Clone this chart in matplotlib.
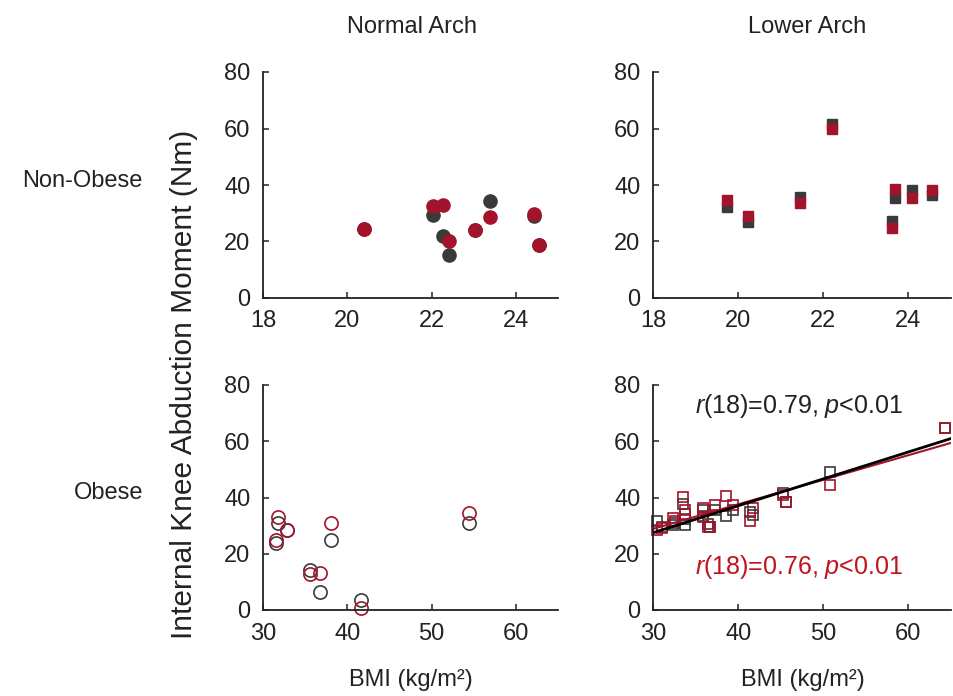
import numpy as np
import matplotlib
matplotlib.use("Agg")
import matplotlib.pyplot as plt

plt.rcParams['font.family'] = ['Liberation Sans', 'DejaVu Sans']
plt.rcParams['mathtext.fontset'] = 'custom'
plt.rcParams['mathtext.rm'] = 'Liberation Sans'
plt.rcParams['mathtext.it'] = 'Liberation Sans:italic'

# ---- data ----
col_titles = ["Normal Arch", "Lower Arch"]
row_titles = ["Non-Obese", "Obese"]
ylabel = "Internal Knee Abduction Moment (Nm)"
xlabel = "BMI (kg/m²)"

# Non-obese, normal arch
bmi_nn = [20.39, 22.04, 22.27, 22.41, 23.02, 23.39, 24.42, 24.55]
dark_nn = [24.4, 29.5, 21.8, 15.1, 24.1, 34.2, 28.9, 18.9]
red_nn = [24.4, 32.4, 33.0, 20.1, 24.1, 28.6, 29.7, 18.9]

# Non-obese, lower arch
bmi_nl = [19.73, 20.23, 21.45, 22.2, 23.61, 23.69, 24.09, 24.55]
dark_nl = [32.1, 26.8, 35.6, 61.7, 27.1, 35.4, 38.3, 36.6]
red_nl = [34.6, 28.9, 33.6, 59.9, 24.8, 38.6, 35.4, 38.1]

# Obese, normal arch
bmi_on = [31.5, 31.76, 32.9, 35.57, 36.75, 38.04, 41.65, 54.47]
dark_on = [23.8, 31.1, 28.3, 14.3, 6.4, 25.0, 3.7, 31.1]
red_on = [25.0, 32.9, 28.3, 12.9, 13.1, 31.1, 0.7, 34.4]

# Obese, lower arch
bmi_ol = [30.5, 31.0, 32.35, 32.6, 33.5, 33.8, 33.8, 35.9, 35.9, 36.46,
          36.74, 37.24, 38.55, 39.4, 41.35, 41.74, 45.26, 45.66, 50.83, 64.25]
dark_ol = [31.7, 29.5, 30.2, 31.0, 37.8, 30.2, 32.2, 35.5, 33.5, 30.5,
           29.6, 35.5, 33.4, 35.5, 34.9, 33.9, 41.6, 38.5, 48.9, 64.8]
red_ol = [28.6, 29.0, 32.6, 31.5, 40.2, 35.7, 34.1, 36.1, 32.9, 29.6,
          29.6, 37.3, 40.5, 37.3, 31.7, 36.1, 40.8, 38.5, 44.4, 64.8]

stat_dark = r"$\mathit{r}$(18)=0.79, $\mathit{p}$<0.01"
stat_red = r"$\mathit{r}$(18)=0.76, $\mathit{p}$<0.01"

DARK = '#3a3a3a'
RED = '#a3132b'
RED_TXT = '#c0141c'
FS = 17

W, H = 954, 696
fig = plt.figure(figsize=(W / 100, H / 100), dpi=100)


def px_axes(l, t, r, b):
    return fig.add_axes([l / W, 1 - b / H, (r - l) / W, (b - t) / H])


ax_nn = px_axes(263, 72, 558, 298)
ax_nl = px_axes(653, 72, 951, 298)
ax_on = px_axes(263, 385, 558, 610)
ax_ol = px_axes(653, 385, 951, 610)

for ax in (ax_nn, ax_nl, ax_on, ax_ol):
    for s in ('top', 'right'):
        ax.spines[s].set_visible(False)
    for s in ('left', 'bottom'):
        ax.spines[s].set_linewidth(1.3)
        ax.spines[s].set_color('#222222')
    ax.set_ylim(0, 80)
    ax.set_yticks([0, 20, 40, 60, 80])
    ax.tick_params(direction='in', length=4, width=1.1, labelsize=FS,
                   pad=9, colors='#222222')
    ax.set_facecolor('none')

for ax in (ax_nn, ax_nl):
    ax.set_xlim(18, 25)
    ax.set_xticks([18, 20, 22, 24])
for ax in (ax_on, ax_ol):
    ax.set_xlim(30, 65)
    ax.set_xticks([30, 40, 50, 60])

# Top-left: filled circles
ax_nn.plot(bmi_nn, dark_nn, 'o', color=DARK, ms=9.5, mec=DARK, clip_on=False)
ax_nn.plot(bmi_nn, red_nn, 'o', color=RED, ms=9.5, mec=RED, clip_on=False)

# Top-right: filled squares
ax_nl.plot(bmi_nl, dark_nl, 's', color=DARK, ms=7.5, mec=DARK, clip_on=False)
ax_nl.plot(bmi_nl, red_nl, 's', color=RED, ms=7.5, mec=RED, clip_on=False)

# Bottom-left: open circles
ax_on.plot(bmi_on, dark_on, 'o', mfc='none', mec=DARK, ms=9.5, mew=1.2, clip_on=False)
ax_on.plot(bmi_on, red_on, 'o', mfc='none', mec=RED, ms=9.5, mew=1.2, clip_on=False)

# Bottom-right: open squares + fits
ax_ol.plot(bmi_ol, dark_ol, 's', mfc='none', mec=DARK, ms=7, mew=1.2, clip_on=False)
ax_ol.plot(bmi_ol, red_ol, 's', mfc='none', mec=RED, ms=7, mew=1.2, clip_on=False)
xs = np.array([30, 65])
kd = np.polyfit(bmi_ol, dark_ol, 1)
kr = np.polyfit(bmi_ol, red_ol, 1)
ax_ol.plot(xs, np.polyval(kr, xs), '-', color=RED, lw=1.5)
ax_ol.plot(xs, np.polyval(kd, xs), '-', color='black', lw=2.0)
ax_ol.text(34.9, 72.5, stat_dark, color='#222222', fontsize=18, va='center', ha='left')
ax_ol.text(34.9, 15.2, stat_red, color=RED_TXT, fontsize=18, va='center', ha='left')

# Column / row labels
fig.text(412 / W, 1 - 27 / H, col_titles[0], fontsize=FS, ha='center', va='center', color='#222222')
fig.text(807 / W, 1 - 27 / H, col_titles[1], fontsize=FS, ha='center', va='center', color='#222222')
fig.text(143 / W, 1 - 181 / H, row_titles[0], fontsize=FS, ha='right', va='center', color='#222222')
fig.text(143 / W, 1 - 493 / H, row_titles[1], fontsize=FS, ha='right', va='center', color='#222222')
fig.text(184 / W, 1 - 384 / H, ylabel, fontsize=21.5, rotation=90, ha='center', va='center', color='#222222')
fig.text(411 / W, 1 - 680 / H, xlabel, fontsize=FS, ha='center', va='center', color='#222222')
fig.text(803 / W, 1 - 680 / H, xlabel, fontsize=FS, ha='center', va='center', color='#222222')

fig.savefig('out.png', dpi=100, facecolor='white')
